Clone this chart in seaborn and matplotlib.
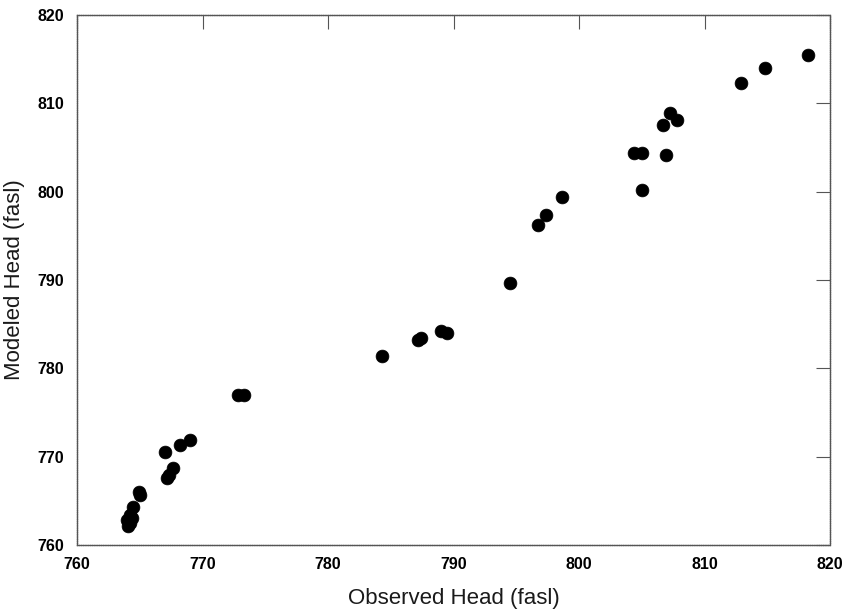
import matplotlib
matplotlib.use("Agg")
import matplotlib.pyplot as plt
import seaborn as sns
import pandas as pd

observed = [818.2, 814.8, 812.9, 807.25, 807.8, 806.7, 804.4, 805.0, 806.9, 805.0,
            798.6, 797.4, 796.7, 794.5, 789.0, 789.5, 787.2, 787.4, 784.3, 772.8, 773.3,
            769.0, 768.2, 767.0, 767.65, 767.3, 767.2, 764.9, 765.0, 764.5, 764.2, 764.0,
            764.2, 764.1, 764.4]
modeled = [815.5, 814.0, 812.3, 808.9, 808.1, 807.5, 804.4, 804.4, 804.2, 800.2,
           799.4, 797.4, 796.2, 789.7, 784.2, 784.0, 783.2, 783.4, 781.4, 777.0, 777.0,
           771.9, 771.3, 770.5, 768.7, 767.9, 767.6, 766.0, 765.7, 764.3, 763.4, 762.8,
           762.5, 762.2, 763.0]

df = pd.DataFrame({"Observed": observed, "Modeled": modeled})

sns.set_theme(style="white")
plt.rcParams['font.family'] = ['Liberation Sans', 'DejaVu Sans']

fig = plt.figure(figsize=(8.48, 6.14), dpi=100)
ax = fig.add_axes([0.0908, 0.1124, 0.8882, 0.8632])

sns.scatterplot(data=df, x="Observed", y="Modeled", ax=ax, s=85, color="black",
                edgecolor="black", linewidth=0.5)

ax.set_xlim(760, 820)
ax.set_ylim(760, 820)
ax.set_xticks(range(760, 821, 10))
ax.set_yticks(range(760, 821, 10))
ax.tick_params(direction="in", length=10, width=0.8, color="#555555",
               top=True, right=True, labelsize=11.5, pad=9, labelcolor="black")
for lab in ax.get_xticklabels() + ax.get_yticklabels():
    lab.set_fontweight("bold")
for sp in ax.spines.values():
    sp.set_color("#555555")
    sp.set_linewidth(1.0)
    sp.set_linestyle((0, (1, 0.6)))

ax.set_xlabel("Observed Head (fasl)", fontsize=16, labelpad=11, color="#1a1a1a")
ax.set_ylabel("Modeled Head (fasl)", fontsize=16, labelpad=9, color="#1a1a1a")

fig.savefig("out.png", dpi=100)
